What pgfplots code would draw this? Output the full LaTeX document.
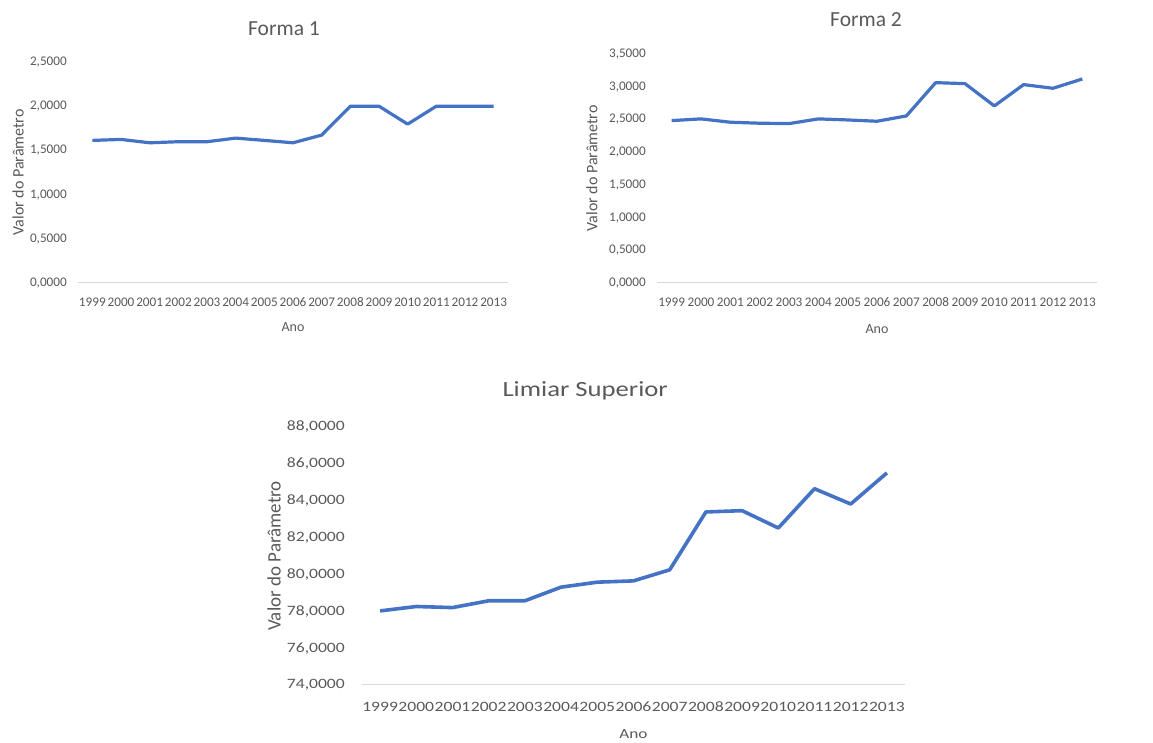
\documentclass[border=0pt]{standalone}
\usepackage{fontspec}
\setmainfont{Carlito}
\newfontfamily\widefont[FakeStretch=1.23]{Carlito}
\usepackage{pgfplots}
\usepackage{pgfplotstable}
\pgfplotsset{compat=1.18}

\definecolor{lineblue}{HTML}{4472C4}
\definecolor{txtgray}{HTML}{595959}
\definecolor{axgray}{HTML}{D9D9D9}

\pgfplotstableread{
ano forma1 forma2 limiar
0 1.613 2.482 78.02
1 1.624 2.508 78.26
2 1.586 2.457 78.20
3 1.598 2.442 78.57
4 1.598 2.436 78.57
5 1.639 2.508 79.31
6 1.613 2.492 79.58
7 1.586 2.472 79.65
8 1.673 2.553 80.25
9 2.000 3.062 83.39
10 2.000 3.047 83.46
11 1.797 2.706 82.52
12 2.000 3.032 84.65
13 2.000 2.976 83.82
14 2.000 3.118 85.51
}\dados

\pgfplotsset{
  every axis title shift=0pt,
  painel/.style={
    scale only axis,
    anchor=south west,
    xmin=-0.5, xmax=14.5,
    xtick={0,...,14},
    xticklabels={1999,2000,2001,2002,2003,2004,2005,2006,2007,2008,2009,2010,2011,2012,2013},
    axis x line*=bottom,
    axis y line*=left,
    x axis line style={draw=axgray, line width=1pt, -},
    y axis line style={draw=none},
    major tick length=0pt,
    clip=false,
    yticklabel style={
      /pgf/number format/fixed,
      /pgf/number format/fixed zerofill,
      /pgf/number format/precision=4,
      /pgf/number format/use comma,
      /pgf/number format/1000 sep={},
      /pgf/number format/assume math mode=true},
    ticklabel style={color=txtgray},
    label style={color=txtgray},
    title style={color=txtgray, anchor=base},
    xlabel={Ano},
    ylabel={Valor do Parâmetro},
  },
  serie/.style={color=lineblue, line width=3.2pt, line join=round, no markers},
}

\begin{document}
\begin{tikzpicture}
\useasboundingbox (0,0) rectangle (1153pt,743pt);

% Forma 1
\begin{axis}[painel,
  at={(78pt,460pt)}, width=430pt, height=221pt,
  ymin=0, ymax=2.5, ytick={0,0.5,1,1.5,2,2.5},
  ticklabel style={font=\fontsize{13.2}{13.2}\selectfont},
  yticklabel style={anchor=east, inner sep=0pt, xshift=-11pt},
  xticklabel style={anchor=center, inner sep=0pt, yshift=-19.5pt},
  xlabel style={at={(axis description cs:0.5,-0.199)}, anchor=center, font=\fontsize{14}{14}\selectfont},
  ylabel style={at={(axis description cs:-0.139,0.5)}, anchor=center, font=\fontsize{16}{16}\selectfont},
  title={Forma 1},
  title style={at={(axis description cs:0.479,1.122)}, font=\fontsize{21.5}{21.5}\selectfont},
]
\addplot[serie] table[x=ano, y=forma1] {\dados};
\end{axis}

% Forma 2
\begin{axis}[painel,
  at={(657pt,460pt)}, width=440pt, height=229pt,
  ymin=0, ymax=3.5, ytick={0,0.5,1,1.5,2,2.5,3,3.5},
  ticklabel style={font=\fontsize{13.2}{13.2}\selectfont},
  yticklabel style={anchor=east, inner sep=0pt, xshift=-11pt},
  xticklabel style={anchor=center, inner sep=0pt, yshift=-19.5pt},
  xlabel style={at={(axis description cs:0.5,-0.201)}, anchor=center, font=\fontsize{14}{14}\selectfont},
  ylabel style={at={(axis description cs:-0.148,0.5)}, anchor=center, font=\fontsize{16}{16}\selectfont},
  title={Forma 2},
  title style={at={(axis description cs:0.475,1.119)}, font=\fontsize{21.5}{21.5}\selectfont},
]
\addplot[serie] table[x=ano, y=forma2] {\dados};
\end{axis}

% Limiar Superior
\begin{axis}[painel,
  at={(362pt,58pt)}, width=543pt, height=258pt,
  ymin=74, ymax=88, ytick={74,76,78,80,82,84,86,88},
  ticklabel style={font=\widefont\fontsize{14.3}{14.3}\selectfont},
  yticklabel style={anchor=east, inner sep=0pt, xshift=-17pt},
  xticklabel style={anchor=center, inner sep=0pt, yshift=-21.5pt},
  xlabel style={at={(axis description cs:0.5,-0.19)}, anchor=center, font=\widefont\fontsize{14}{14}\selectfont},
  ylabel style={at={(axis description cs:-0.162,0.5)}, anchor=center, font=\fontsize{19}{19}\selectfont},
  title={Limiar Superior},
  title style={at={(axis description cs:0.411,1.117)}, font=\widefont\fontsize{21.7}{21.7}\selectfont},
]
\addplot[serie, line width=3.6pt] table[x=ano, y=limiar] {\dados};
\end{axis}
\end{tikzpicture}
\end{document}
